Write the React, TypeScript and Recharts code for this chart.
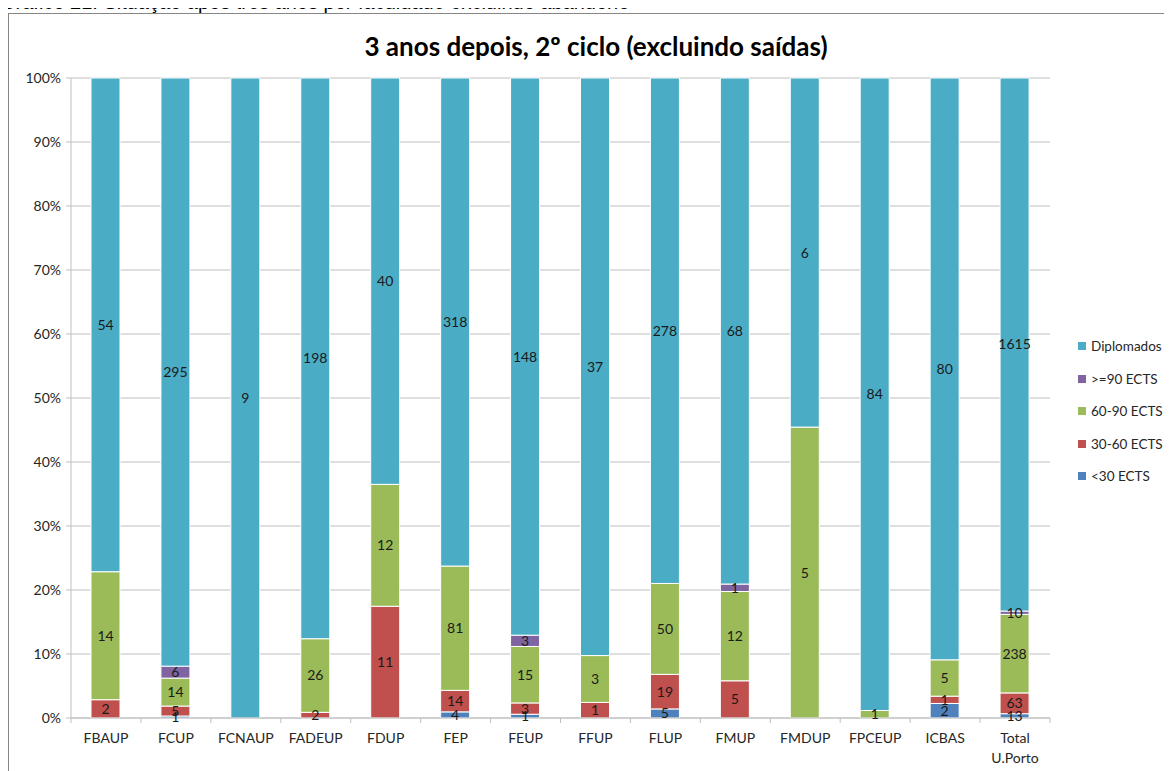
import React from 'react';
import { BarChart, Bar, XAxis, YAxis, CartesianGrid, LabelList } from 'recharts';

const categories = ['FBAUP', 'FCUP', 'FCNAUP', 'FADEUP', 'FDUP', 'FEP', 'FEUP', 'FFUP', 'FLUP', 'FMUP', 'FMDUP', 'FPCEUP', 'ICBAS', 'Total U.Porto'];
const lt30 = [0, 1, 0, 0, 0, 4, 1, 0, 5, 0, 0, 0, 2, 13];
const e30_60 = [2, 5, 0, 2, 11, 14, 3, 1, 19, 5, 0, 0, 1, 63];
const e60_90 = [14, 14, 0, 26, 12, 81, 15, 3, 50, 12, 5, 1, 5, 238];
const ge90 = [0, 6, 0, 0, 0, 0, 3, 0, 0, 1, 0, 0, 0, 10];
const dipl = [54, 295, 9, 198, 40, 318, 148, 37, 278, 68, 6, 84, 80, 1615];
const yTicks = [0, 0.1, 0.2, 0.3, 0.4, 0.5, 0.6, 0.7, 0.8, 0.9, 1];

const seriesDefs = [
  { key: 'lt30', name: '<30 ECTS', color: '#4F81BD' },
  { key: 'e30_60', name: '30-60 ECTS', color: '#C0504D' },
  { key: 'e60_90', name: '60-90 ECTS', color: '#9BBB59' },
  { key: 'ge90', name: '>=90 ECTS', color: '#8064A2' },
  { key: 'dipl', name: 'Diplomados', color: '#4BACC6' },
];

const data = categories.map((c, i) => ({
  cat: c,
  lt30: lt30[i],
  e30_60: e30_60[i],
  e60_90: e60_90[i],
  ge90: ge90[i],
  dipl: dipl[i],
}));

const FONT = 'Lato, "Open Sans", sans-serif';

const XTick = (props: any) => {
  const { x, y, payload, index } = props;
  const off = payload.offset || 0;
  const words = String(payload.value).split(' ');
  return (
    <g>
      <line x1={x - off} y1={y - 8} x2={x - off} y2={y - 3} stroke="#BFBFBF" />
      {index === categories.length - 1 && (
        <line x1={x + off} y1={y - 8} x2={x + off} y2={y - 3} stroke="#BFBFBF" />
      )}
      <text x={x} y={y + 17} textAnchor="middle" fontSize={14} fontFamily={FONT} fill="#262626">
        {words.map((w, i) => (
          <tspan key={i} x={x} dy={i === 0 ? 0 : 20}>{w}</tspan>
        ))}
      </text>
    </g>
  );
};

const fmtLabel = (v: any) => (v === 0 || v == null ? '' : v);

export default function App() {
  const legendItems = [...seriesDefs].reverse();
  return (
    <div style={{ position: 'relative', width: 1164, height: 763, fontFamily: FONT }}>
      <style>{`html,body{overflow:hidden}`}</style>
      <div
        style={{
          position: 'absolute',
          left: -8,
          top: -16,
          fontFamily: '"Liberation Sans", Arial, sans-serif',
          fontSize: 20,
          lineHeight: '20px',
          whiteSpace: 'nowrap',
          color: '#000',
        }}
      >
        Gráfico 21: Situação após três anos por faculdade excluindo abandono
      </div>
      <div
        style={{
          position: 'absolute',
          left: 0,
          top: 5,
          width: 1200,
          height: 800,
          border: '1px solid #868686',
          boxSizing: 'border-box',
        }}
      />
      <div
        style={{
          position: 'absolute',
          left: 0,
          width: 1176,
          top: 22,
          textAlign: 'center',
          fontWeight: 700,
          fontSize: 26,
          lineHeight: '32px',
          color: '#000',
        }}
      >
        3 anos depois, 2º ciclo (excluindo saídas)
      </div>
      <div style={{ position: 'absolute', left: 0, top: 5 }}>
        <BarChart
          width={1150}
          height={750}
          data={data}
          stackOffset="expand"
          barCategoryGap="0%"
          margin={{ top: 65, right: 108, left: 11, bottom: 5 }}
        >
          <CartesianGrid vertical={false} stroke="#BFBFBF" />
          <XAxis
            dataKey="cat"
            interval={0}
            height={40}
            tickLine={false}
            axisLine={{ stroke: '#BFBFBF' }}
            tick={<XTick />}
          />
          <YAxis
            width={52}
            domain={[0, 1]}
            ticks={yTicks}
            tickFormatter={(v: number) => `${Math.round(v * 100)}%`}
            axisLine={{ stroke: '#BFBFBF' }}
            tickLine={{ stroke: '#BFBFBF' }}
            tickSize={5}
            tick={{ fontSize: 14, fontFamily: FONT, fill: '#262626', dx: -3 }}
          />
          {seriesDefs.map((s) => (
            <Bar
              key={s.key}
              dataKey={s.key}
              name={s.name}
              stackId="a"
              fill={s.color}
              stroke="#FFFFFF"
              strokeWidth={1}
              barSize={29}
              isAnimationActive={false}
            >
              <LabelList
                dataKey={s.key}
                position="center"
                formatter={fmtLabel}
                style={{ fontSize: 14, fontFamily: FONT, fill: '#1a1a1a' }}
              />
            </Bar>
          ))}
        </BarChart>
      </div>
      <div style={{ position: 'absolute', left: 1070, top: 322 }}>
        {legendItems.map((s) => (
          <div key={s.key} style={{ display: 'flex', alignItems: 'center', height: 32.5, fontSize: 13.5, color: '#262626', whiteSpace: 'nowrap' }}>
            <span style={{ display: 'inline-block', width: 8, height: 8, background: s.color, marginRight: 5 }} />
            {s.name}
          </div>
        ))}
      </div>
    </div>
  );
}
